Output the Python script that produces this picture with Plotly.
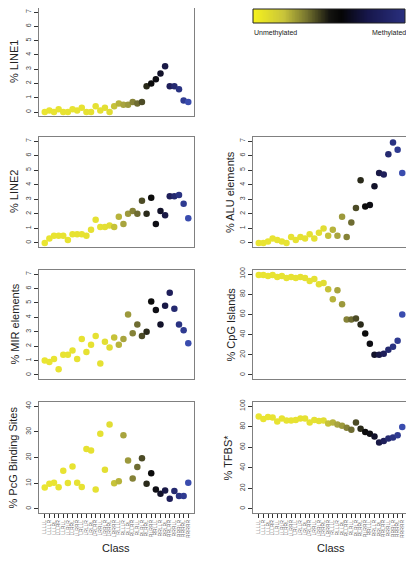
import plotly.graph_objects as go
import numpy as np

classes = ["LLLLL","LLLLR","LLLRL","LLLRR","LLRLL","LLRLR","LLRRL","LLRRR",
           "LRLLL","LRLLR","LRLRL","LRLRR","LRRLL","LRRLR","LRRRL","LRRRR",
           "RLLLL","RLLLR","RLLRL","RLLRR","RLRLL","RLRLR","RLRRL","RLRRR",
           "RRLLL","RRLLR","RRLRL","RRLRR","RRRLL","RRRLR","RRRRL","RRRRR"]

meth_level = [0.02,0.03,0.03,0.04,0.04,0.05,0.05,0.06,0.06,0.07,0.07,0.08,0.08,0.11,0.14,0.22,
              0.26,0.30,0.32,0.36,0.40,0.45,0.50,0.55,0.57,0.63,0.70,0.75,0.82,0.88,0.92,1.0]

line1 = [0,0.1,0,0.2,0,0,0.2,0.1,0.3,0,0,0.4,0.1,0.3,0,0.4,
         0.6,0.5,0.5,0.7,0.6,0.7,1.8,2.0,2.3,2.7,3.2,1.8,1.8,1.6,0.8,0.7]
line2 = [0,0.3,0.5,0.5,0.5,0.2,0.6,0.6,0.6,0.5,0.9,1.6,1.1,1.1,1.2,1.1,
         1.8,1.3,2.0,2.2,2.0,2.9,2.0,3.1,1.3,2.2,1.9,3.2,3.2,3.3,2.7,1.7]
alu = [0,0,0.1,0.3,0.2,0.1,0,0.4,0.2,0.4,0.3,0.6,0.3,0.7,1.0,0.5,
       0.9,0.5,1.8,0.4,1.4,2.4,4.3,2.5,2.6,3.9,4.8,4.7,6.1,6.9,6.4,4.8]
mir = [1.0,0.9,1.1,0.4,1.4,1.4,1.7,1.1,2.5,1.6,2.1,2.7,0.8,2.3,1.9,2.6,
       2.1,2.5,4.2,2.9,3.5,2.7,3.0,5.1,4.5,3.5,4.8,5.7,4.6,3.5,3.1,2.2]
cpg = [99,99,98,99,97,98,96,97,96,97,96,93,95,90,91,85,
       75,84,70,55,55,56,50,41,31,20,20,21,25,28,34,60]
pcg = [8.3,9.8,10.2,8.4,14.8,10.1,16.5,10.2,8.5,23.3,22.7,7.5,29.2,15.2,32.8,10.0,
       10.8,28.7,18.8,11.8,16.3,19.7,9.8,13.9,7.5,5.9,7.2,3.9,7.0,5.0,5.0,10.2]
tfbs = [90,87.5,89.5,89,85,88,86,86,86.5,88,88,84,86.5,85.5,86,83,
        84,82,81,79,77,84,78,74.7,73,70.4,64.5,66,68.4,69.4,71.7,79.6]

colorscale = [[0.0,'#ebe631'],[0.15,'#e0dc34'],[0.3,'#a8a43e'],[0.4,'#6e6c32'],
              [0.5,'#2a2a1a'],[0.55,'#0c0c0c'],[0.65,'#141432'],[0.75,'#1f1f5a'],
              [0.88,'#2a3382'],[1.0,'#3a4cae']]
bar_scale = [[0.0,'#f6f21c'],[0.2,'#c9c53a'],[0.35,'#77752f'],[0.5,'#151510'],
             [0.58,'#050505'],[0.75,'#16164a'],[1.0,'#2a3080']]

# the page body has an 8px margin, so the figure is placed 8px in from the corner
OFF = 8
W, H = 414 - OFF, 561 - OFF
def clamp(v): return min(1.0, max(0.0, v))
def px(x): return clamp((x - OFF) / W)
def py(y): return clamp(1 - (y - OFF) / H)
def xd(a, b): return [px(a), px(b)]
def yd(top, bot): return [py(bot), py(top)]

LX = xd(39, 194)
RX = xd(253, 408)
rows = [yd(6, 116), yd(137, 247), yd(270, 379), yd(402, 513)]

panels = [
    # (values, title, xdom, ydom, yrange, yticks, show_x, title_x)
    (line1, "% LINE1", LX, rows[0], [-0.28, 7.28], list(range(0, 8)), False, 14),
    (line2, "% LINE2", LX, rows[1], [-0.28, 7.28], list(range(0, 8)), False, 14),
    (alu, "% ALU elements", RX, rows[1], [-0.28, 7.28], list(range(0, 8)), False, 230),
    (mir, "% MIR elements", LX, rows[2], [-0.28, 7.28], list(range(0, 8)), False, 14),
    (cpg, "% CpG Islands", RX, rows[2], [-4, 104], [0, 20, 40, 60, 80, 100], False, 230),
    (pcg, "% PcG Binding Sites", LX, rows[3], [-1.6, 41.6], [0, 10, 20, 30, 40], True, 12),
    (tfbs, "% TFBS*", RX, rows[3], [-4, 104], [0, 20, 40, 60, 80, 100], True, 227),
]

fig = go.Figure()
layout = dict(width=W, height=H, margin=dict(l=0, r=0, t=0, b=0, autoexpand=False),
              paper_bgcolor='white', plot_bgcolor='white', showlegend=False,
              font=dict(family="Liberation Sans, Arial", color='#222'))
annotations = []
for i, (vals, title, xdom, ydom, yr, yt, showx, tx) in enumerate(panels, start=1):
    sfx = '' if i == 1 else str(i)
    fig.add_trace(go.Scatter(
        x=classes, y=vals, mode='markers', xaxis='x' + sfx, yaxis='y' + sfx,
        marker=dict(size=6.5, color=meth_level, colorscale=colorscale, cmin=0, cmax=1,
                    line=dict(width=0)),
        hoverinfo='x+y'))
    layout['xaxis' + sfx] = dict(
        domain=xdom, anchor='y' + sfx, type='category', range=[-1.24, 32.24],
        automargin=False, tickmode='array', tickvals=classes, ticktext=classes,
        showgrid=False, zeroline=False, showline=True, mirror=True, linecolor='#808080',
        linewidth=1, ticks='outside' if showx else '', ticklen=4, tickcolor='#333',
        showticklabels=showx, tickangle=-90, tickfont=dict(size=5, color='#666'))
    layout['yaxis' + sfx] = dict(
        domain=ydom, anchor='x' + sfx, range=yr, tickvals=yt, automargin=False,
        showgrid=False, zeroline=False, showline=True, mirror=True, linecolor='#808080',
        linewidth=1, ticks='outside', ticklen=4, tickcolor='#333',
        tickangle=-90, tickfont=dict(size=7, color='#444'))
    annotations.append(dict(text=title, xref='paper', yref='paper', x=px(tx),
                            y=(ydom[0] + ydom[1]) / 2, textangle=-90, showarrow=False,
                            xanchor='center', yanchor='middle', font=dict(size=11)))
    if showx:
        annotations.append(dict(text='Class', xref='paper', yref='paper',
                                x=(xdom[0] + xdom[1]) / 2, y=py(548), showarrow=False,
                                xanchor='center', yanchor='middle', font=dict(size=11)))

# colour legend bar
legend_steps = np.linspace(0, 1, 200)
fig.add_trace(go.Heatmap(z=[legend_steps], x=legend_steps, xaxis='x8', yaxis='y8',
                         colorscale=bar_scale, showscale=False, hoverinfo='skip'))
layout['xaxis8'] = dict(domain=xd(253, 405), anchor='y8', range=[0, 1], visible=False)
layout['yaxis8'] = dict(domain=yd(9, 23), anchor='x8', range=[-0.5, 0.5], visible=False)
layout['shapes'] = [dict(type='rect', xref='paper', yref='paper',
                         x0=px(253), x1=px(405), y0=py(23), y1=py(9),
                         line=dict(color='#222', width=1))]
annotations.append(dict(text='Unmethylated', xref='paper', yref='paper', x=px(252), y=py(33),
                        xanchor='left', yanchor='middle', showarrow=False, font=dict(size=7)))
annotations.append(dict(text='Methylated', xref='paper', yref='paper', x=px(408), y=py(33),
                        xanchor='right', yanchor='middle', showarrow=False, font=dict(size=7)))
layout['annotations'] = annotations
fig.update_layout(**layout)
fig.write_html("out.html")
